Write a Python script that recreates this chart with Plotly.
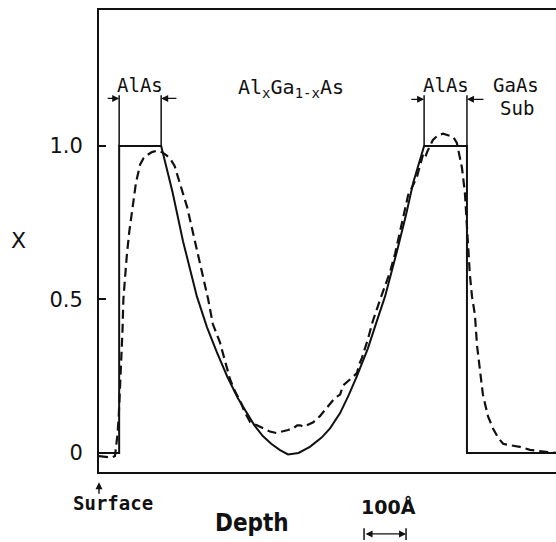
import plotly.graph_objects as go

# ---- data (depth in Angstrom, x = Al fraction) ----
design_depth = [0, 48, 48, 148, 175, 200, 233, 257, 280, 305, 330, 352, 370, 390, 410, 430,
                450, 475, 502, 530, 550, 574, 595, 614, 640, 664, 681, 710, 730, 748, 774,
                876, 876, 1088]
design_x = [0, 0, 1.0, 1.0, 0.85, 0.69, 0.51, 0.41, 0.33, 0.25, 0.18, 0.13, 0.09, 0.055, 0.03, 0.01,
            -0.005, 0.0, 0.02, 0.05, 0.08, 0.13, 0.19, 0.25, 0.34, 0.44, 0.51, 0.66, 0.77, 0.88, 1.0,
            1.0, 0, 0]

measured_depth = [0, 15, 30, 38, 41, 44, 47, 50, 53, 56, 58, 62, 66, 72, 79, 88, 98, 106, 114,
                  126, 138, 150, 160, 169, 180, 195, 210, 225, 240, 260, 271, 288, 300, 312,
                  324, 336, 348, 360, 376, 392, 407, 422, 438, 450, 462, 472, 479, 487, 495,
                  510, 526, 538, 550, 562, 574, 581, 598, 614, 620, 626, 640, 652, 672, 693,
                  705, 717, 727, 736, 747, 757, 765, 771, 776, 781, 788, 795, 807, 819, 831,
                  843, 852, 858, 864, 871, 876, 879, 883, 888, 895, 900, 907, 914, 926, 938,
                  950, 962, 980, 1002, 1026, 1050, 1070, 1088]
measured_x = [-0.01, -0.012, -0.015, -0.01, 0.02, 0.06, 0.12, 0.2, 0.3, 0.4, 0.5, 0.58, 0.64,
              0.72, 0.79, 0.88, 0.94, 0.96, 0.97, 0.98, 0.985, 0.98, 0.97, 0.96, 0.935, 0.87,
              0.80, 0.71, 0.62, 0.50, 0.42, 0.36, 0.30, 0.24, 0.20, 0.17, 0.13, 0.10, 0.09,
              0.08, 0.07, 0.065, 0.07, 0.075, 0.08, 0.09, 0.09, 0.085, 0.09, 0.10, 0.12, 0.14,
              0.16, 0.18, 0.19, 0.22, 0.24, 0.26, 0.29, 0.31, 0.37, 0.43, 0.51, 0.59, 0.65,
              0.72, 0.78, 0.84, 0.87, 0.90, 0.94, 0.97, 0.96, 0.98, 1.00, 1.02, 1.035, 1.04,
              1.035, 1.03, 1.01, 0.97, 0.93, 0.85, 0.74, 0.67, 0.58, 0.51, 0.45, 0.35, 0.26,
              0.19, 0.12, 0.08, 0.05, 0.03, 0.025, 0.02, 0.01, 0.005, 0.003, 0.0]

y_tick_vals = [0, 0.5, 1.0]
y_tick_text = ["0", "0.5", "1.0"]

layer_edges = [48, 148, 774, 876]   # AlAs / graded / AlAs / substrate boundaries
scale_start = 631
scale_length = 100
x_range = [0, 1088]
y_range = [-0.062, 1.443]

INK = "#111111"
MONO = "DejaVu Sans Mono, monospace"
SANS = "DejaVu Sans, sans-serif"

fig = go.Figure()
fig.add_trace(go.Scatter(x=design_depth, y=design_x, mode="lines",
                         line=dict(color=INK, width=2), hoverinfo="skip"))
fig.add_trace(go.Scatter(x=measured_depth, y=measured_x, mode="lines",
                         line=dict(color=INK, width=2.2, dash="9px,5px"), hoverinfo="skip"))

shapes = []
for e in layer_edges:
    shapes.append(dict(type="line", xref="x", yref="y", x0=e, x1=e, y0=1.0, y1=1.165,
                       line=dict(color=INK, width=1.5)))
# scale bar end ticks
for e in [scale_start, scale_start + scale_length]:
    shapes.append(dict(type="line", xref="x", yref="paper", x0=e, x1=e, y0=-0.122, y1=-0.147,
                       line=dict(color=INK, width=1.5)))

ann = []
def label(text, x, y, size=19, fam=MONO, yref="y", xref="x", bold=False):
    f = dict(family=fam, size=size, color=INK)
    if bold:
        f["weight"] = "bold"
    ann.append(dict(text=text, x=x, y=y, xref=xref, yref=yref, showarrow=False, font=f,
                    xanchor="center", yanchor="middle"))

def arrow(x_head, x_tail, y):
    ann.append(dict(text="", x=x_head, y=y, ax=x_tail, ay=0, xref="x", yref="y",
                    axref="x", ayref="pixel", showarrow=True, arrowhead=2, arrowsize=1,
                    arrowwidth=1.4, arrowcolor=INK))

label("AlAs", (layer_edges[0] + layer_edges[1]) / 2, 1.198)
label("Al<sub>x</sub>Ga<sub>1-x</sub>As", 457, 1.19, size=20)
label("AlAs", (layer_edges[2] + layer_edges[3]) / 2, 1.198)
label("GaAs", 993, 1.198)
label("Sub", 995, 1.125)

arrow(layer_edges[0], 17, 1.155)
arrow(layer_edges[1], 188, 1.155)
arrow(layer_edges[2], 740, 1.152)
arrow(layer_edges[3], 919, 1.152)

label("Surface", 33, -0.068, size=19, fam=MONO, yref="paper", bold=True)
label("Depth", 364, -0.110, size=24,
      fam="DejaVu Sans Condensed, Liberation Sans Narrow, DejaVu Sans", yref="paper", bold=True)
label("100Å", scale_start + 58, -0.074, size=19, fam=SANS, yref="paper", bold=True)
label("X", -0.177, 0.502, size=22, fam=SANS, yref="paper", xref="paper")

# surface arrow
ann.append(dict(text="", x=0, y=-0.022, xref="x", yref="paper", ax=0, ay=13,
                showarrow=True, arrowhead=2, arrowsize=1, arrowwidth=1.4, arrowcolor=INK))
# 100 A scale arrow
ann.append(dict(text="", x=scale_start + scale_length, y=-0.134, xref="x", yref="paper",
                ax=scale_start, ay=0, axref="x", ayref="pixel", showarrow=True,
                arrowside="end+start", arrowhead=2, arrowsize=1, arrowwidth=1.4, arrowcolor=INK))

fig.update_layout(
    width=556, height=542,
    margin=dict(l=99, r=0, t=10, b=70),
    paper_bgcolor="white", plot_bgcolor="white",
    showlegend=False,
    shapes=shapes, annotations=ann,
    xaxis=dict(range=x_range, showgrid=False, zeroline=False, showline=True, mirror=True,
               linecolor=INK, linewidth=2, ticks="", showticklabels=False, fixedrange=True),
    yaxis=dict(range=y_range, showgrid=False, zeroline=False, showline=True, mirror=False,
               linecolor=INK, linewidth=2, ticks="inside", ticklen=7, tickwidth=1.5,
               tickcolor=INK, tickvals=y_tick_vals, ticktext=y_tick_text,
               tickfont=dict(family=SANS, size=21, color=INK), ticklabelstandoff=10,
               fixedrange=True),
)

fig.write_html("out.html", config={"displayModeBar": False},
               post_script="document.body.style.margin='0';document.body.style.overflow='hidden';")
